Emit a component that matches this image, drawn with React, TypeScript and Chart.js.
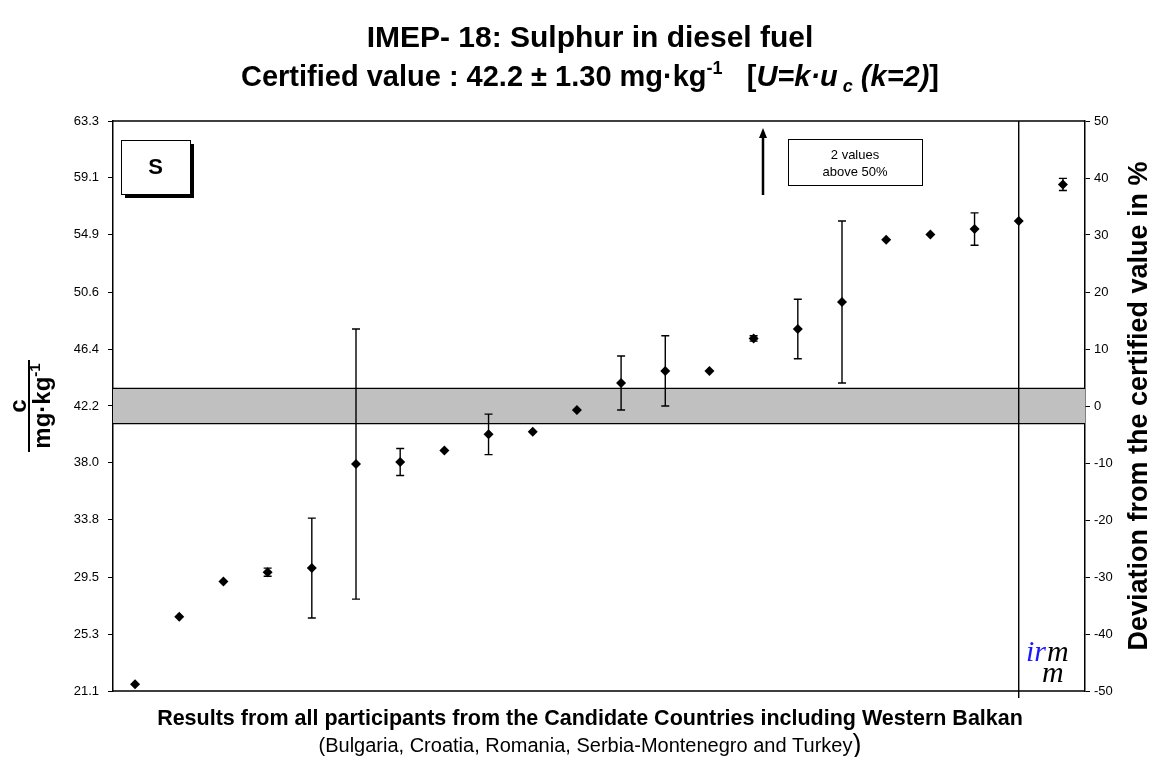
import React, { useEffect, useRef } from "react";
import { Chart, registerables } from "chart.js";

Chart.register(...registerables);

// ---- data ----
const participants = ["1","2","3","4","5","6","7","8","9","10","11","12","13","14","15","16","17","18","19","20","21","22"];
const results = [21.6, 26.6, 29.2, 29.9, 30.2, 37.9, 38.05, 38.9, 40.1, 40.3, 41.9, 43.9, 44.8, 44.8, 47.2, 47.9, 49.9, 54.5, 54.9, 55.3, 55.9, 58.6];
const expandedUnc = [0, 0, 0, 0.3, 3.7, 10.0, 1.0, 0, 1.5, 0, 0, 2.0, 2.6, 0, 0.2, 2.2, 6.0, 0, 0, 1.2, 40, 0.45];
const certifiedValue = 42.2;
const certifiedUnc = 1.3;
const leftTicks = [21.1, 25.3, 29.5, 33.8, 38.0, 42.2, 46.4, 50.6, 54.9, 59.1, 63.3];
const rightTicks = [-50, -40, -30, -20, -10, 0, 10, 20, 30, 40, 50];

const FONT = '"Liberation Sans", Arial, Helvetica, sans-serif';

type Seg = { t: string; f: string; dy?: number };

function drawRich(ctx: CanvasRenderingContext2D, segs: Seg[], cx: number, y: number) {
  let total = 0;
  const widths = segs.map((s) => {
    ctx.font = s.f;
    const w = ctx.measureText(s.t).width;
    total += w;
    return w;
  });
  let x = cx - total / 2;
  ctx.textAlign = "left";
  ctx.textBaseline = "alphabetic";
  segs.forEach((s, i) => {
    ctx.font = s.f;
    ctx.fillText(s.t, x, y + (s.dy || 0));
    x += widths[i];
  });
}

const decorPlugin = {
  id: "decor",
  beforeDatasetsDraw(chart: any) {
    const { ctx, chartArea: a, scales } = chart;
    const y = scales.y;
    const x = scales.x;
    ctx.save();
    // certified band
    const yt = y.getPixelForValue(certifiedValue + certifiedUnc);
    const yb = y.getPixelForValue(certifiedValue - certifiedUnc);
    ctx.fillStyle = "#C0C0C0";
    ctx.fillRect(a.left, yt, a.right - a.left, yb - yt);
    ctx.strokeStyle = "#000";
    ctx.lineWidth = 1.2;
    ctx.beginPath();
    ctx.moveTo(a.left, yt);
    ctx.lineTo(a.right, yt);
    ctx.moveTo(a.left, yb);
    ctx.lineTo(a.right, yb);
    ctx.stroke();

    // error bars
    ctx.beginPath();
    ctx.rect(a.left, a.top, a.right - a.left, a.bottom - a.top + 7);
    ctx.clip();
    ctx.lineWidth = 1.4;
    ctx.strokeStyle = "#000";
    results.forEach((v, i) => {
      const u = expandedUnc[i];
      if (!u) return;
      const px = x.getPixelForValue(i + 1);
      const p1 = y.getPixelForValue(v + u);
      const p2 = y.getPixelForValue(v - u);
      ctx.beginPath();
      ctx.moveTo(px, p1);
      ctx.lineTo(px, p2);
      ctx.moveTo(px - 4, p1);
      ctx.lineTo(px + 4, p1);
      ctx.moveTo(px - 4, p2);
      ctx.lineTo(px + 4, p2);
      ctx.stroke();
    });
    ctx.restore();
  },
  afterDraw(chart: any) {
    const { ctx, chartArea: a } = chart;
    ctx.save();
    ctx.fillStyle = "#000";
    ctx.strokeStyle = "#000";

    // frame top / bottom
    ctx.lineWidth = 1.5;
    ctx.beginPath();
    ctx.moveTo(a.left, a.top);
    ctx.lineTo(a.right, a.top);
    ctx.moveTo(a.left, a.bottom);
    ctx.lineTo(a.right, a.bottom);
    ctx.stroke();

    const cx = 590;
    // titles
    drawRich(ctx, [{ t: "IMEP- 18: Sulphur in diesel fuel", f: `bold 30px ${FONT}` }], cx, 47);
    drawRich(
      ctx,
      [
        { t: "Certified value : 42.2 \u00b1 1.30 mg\u00b7kg", f: `bold 29px ${FONT}` },
        { t: "-1", f: `bold 18px ${FONT}`, dy: -12 },
        { t: "   [", f: `bold 29px ${FONT}` },
        { t: "U=k\u00b7u", f: `italic bold 29px ${FONT}` },
        { t: " c", f: `italic bold 18px ${FONT}`, dy: 6 },
        { t: " (k=2)", f: `italic bold 29px ${FONT}` },
        { t: "]", f: `bold 29px ${FONT}` },
      ],
      cx,
      86
    );

    // bottom texts
    drawRich(
      ctx,
      [{ t: "Results from all participants from the Candidate Countries including Western Balkan", f: `bold 21.5px ${FONT}` }],
      cx,
      725
    );
    drawRich(
      ctx,
      [
        { t: "(Bulgaria, Croatia, Romania, Serbia-Montenegro and Turkey", f: `20px ${FONT}` },
        { t: ")", f: `27px ${FONT}`, dy: 1 },
      ],
      cx,
      752
    );

    // left axis title (fraction)
    const midY = (a.top + a.bottom) / 2;
    ctx.save();
    ctx.translate(29, midY);
    ctx.rotate(-Math.PI / 2);
    drawRich(ctx, [{ t: "c", f: `bold 24px ${FONT}` }], 0, -3);
    ctx.lineWidth = 2;
    ctx.beginPath();
    ctx.moveTo(-46, 0);
    ctx.lineTo(46, 0);
    ctx.stroke();
    drawRich(
      ctx,
      [
        { t: "mg\u00b7kg", f: `bold 24px ${FONT}` },
        { t: "-1", f: `bold 15px ${FONT}`, dy: -10 },
      ],
      0,
      21
    );
    ctx.restore();

    // right axis title
    ctx.save();
    ctx.translate(1147, midY);
    ctx.rotate(-Math.PI / 2);
    drawRich(ctx, [{ t: "Deviation from the certified value in %", f: `bold 27px ${FONT}` }], 0, 0);
    ctx.restore();

    // "S" box with shadow
    const sx = a.left + 8, sy = a.top + 19, sw = 69, sh = 54;
    ctx.fillStyle = "#000";
    ctx.fillRect(sx + 4, sy + 4, sw, sh);
    ctx.fillStyle = "#fff";
    ctx.fillRect(sx, sy, sw, sh);
    ctx.lineWidth = 1;
    ctx.strokeRect(sx + 0.5, sy + 0.5, sw, sh);
    ctx.fillStyle = "#000";
    ctx.font = `bold 22px ${FONT}`;
    ctx.textAlign = "center";
    ctx.textBaseline = "middle";
    ctx.fillText("S", sx + sw / 2, sy + sh / 2 + 1);

    // arrow
    const ax = 763;
    ctx.lineWidth = 2.5;
    ctx.beginPath();
    ctx.moveTo(ax, a.top + 74);
    ctx.lineTo(ax, a.top + 14);
    ctx.stroke();
    ctx.beginPath();
    ctx.moveTo(ax, a.top + 7);
    ctx.lineTo(ax - 4, a.top + 17);
    ctx.lineTo(ax + 4, a.top + 17);
    ctx.closePath();
    ctx.fill();

    // annotation box
    const bx = 788, by = a.top + 18, bw = 134, bh = 46;
    ctx.fillStyle = "#fff";
    ctx.fillRect(bx, by, bw, bh);
    ctx.lineWidth = 1;
    ctx.strokeRect(bx + 0.5, by + 0.5, bw, bh);
    ctx.fillStyle = "#000";
    ctx.font = `13px ${FONT}`;
    ctx.textBaseline = "alphabetic";
    ctx.fillText("2 values", bx + bw / 2, by + 20);
    ctx.fillText("above 50%", bx + bw / 2, by + 37);

    // irmm logo
    ctx.textAlign = "left";
    ctx.font = `italic 30px "Liberation Serif", "DejaVu Serif", serif`;
    ctx.fillStyle = "#1a1aff";
    ctx.fillText("ir", 1026, a.bottom - 30);
    ctx.fillStyle = "#000";
    ctx.fillText("m", 1047, a.bottom - 30);
    ctx.fillText("m", 1042, a.bottom - 9);

    ctx.restore();
  },
};

export default function App() {
  const ref = useRef<HTMLCanvasElement | null>(null);
  useEffect(() => {
    if (!ref.current) return;
    const tickFont = { family: FONT, size: 13 };
    const chart = new Chart(ref.current, {
      type: "scatter",
      data: {
        labels: participants,
        datasets: [
          {
            label: "Results",
            data: results.map((v, i) => ({ x: i + 1, y: v })),
            pointStyle: "rectRot",
            pointRadius: 5,
            pointBackgroundColor: "#000",
            pointBorderColor: "#000",
            pointBorderWidth: 0,
            showLine: false,
          },
        ],
      },
      options: {
        responsive: false,
        animation: false,
        events: [],
        layout: { padding: { left: 0, right: 0, top: 121, bottom: 66 } },
        plugins: { legend: { display: false }, tooltip: { enabled: false }, title: { display: false } },
        scales: {
          x: { type: "linear", min: 0.5, max: participants.length + 0.5, display: false },
          y: {
            type: "linear",
            position: "left",
            min: leftTicks[0],
            max: leftTicks[leftTicks.length - 1],
            afterBuildTicks: (s: any) => {
              s.ticks = leftTicks.map((v) => ({ value: v }));
            },
            afterFit: (s: any) => {
              s.width = 113;
            },
            ticks: {
              autoSkip: false,
              color: "#000",
              font: tickFont,
              padding: 9,
              callback: (v: any) => Number(v).toFixed(1),
            },
            grid: { drawOnChartArea: false, drawTicks: true, tickLength: 5, color: "#000", lineWidth: 1 },
            border: { display: true, color: "#000", width: 1.5 },
          },
          y2: {
            type: "linear",
            position: "right",
            min: rightTicks[0],
            max: rightTicks[rightTicks.length - 1],
            afterBuildTicks: (s: any) => {
              s.ticks = rightTicks.map((v) => ({ value: v }));
            },
            afterFit: (s: any) => {
              s.width = 68;
            },
            ticks: { autoSkip: false, color: "#000", font: tickFont, padding: 4 },
            grid: { drawOnChartArea: false, drawTicks: true, tickLength: 5, color: "#000", lineWidth: 1 },
            border: { display: true, color: "#000", width: 1.5 },
          },
        },
      },
      plugins: [decorPlugin],
    } as any);
    return () => chart.destroy();
  }, []);
  return (
    <div style={{ position: "absolute", left: 0, top: 0, width: 1153, height: 757, background: "#fff" }}>
      <canvas ref={ref} width={1153} height={757} style={{ display: "block" }} />
    </div>
  );
}
